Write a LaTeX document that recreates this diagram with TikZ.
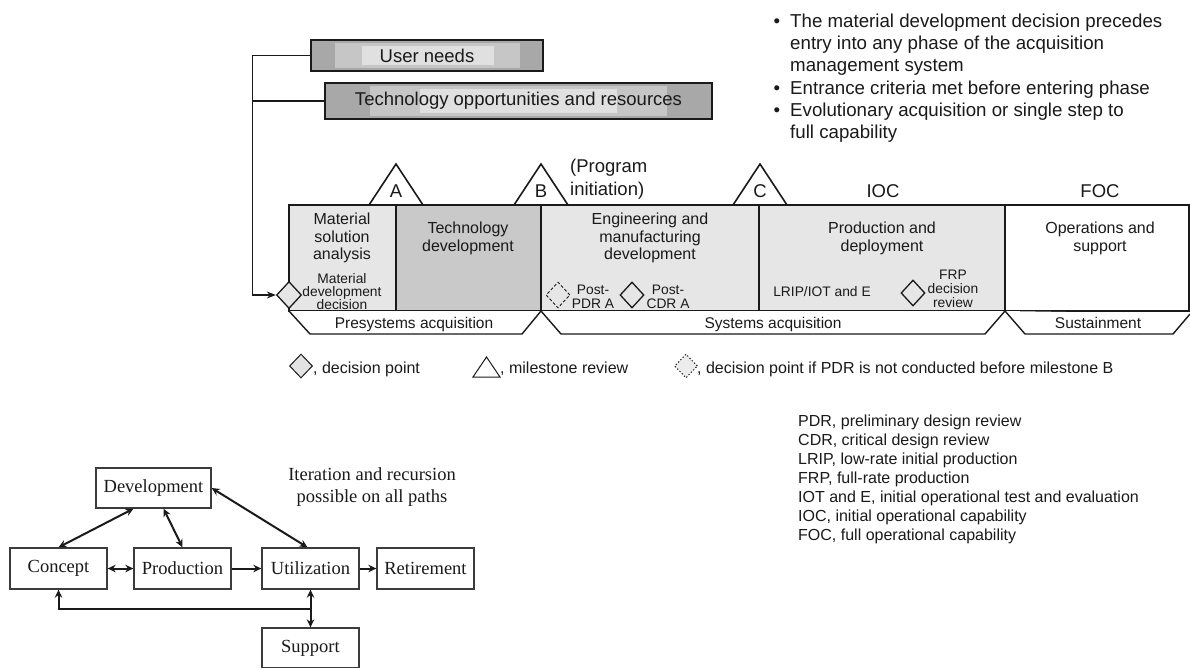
\documentclass[tikz,border=0pt]{standalone}
\usepackage{fontspec}
\setmainfont{Liberation Sans}
\newfontfamily\tnr{Liberation Serif}
\usetikzlibrary{shapes.geometric,arrows.meta,calc}
\newcommand\fsz[2]{\fontsize{#1}{#2}\selectfont}
\definecolor{ga}{HTML}{A8A8A8}
\definecolor{gb}{HTML}{C6C6C6}
\definecolor{gc}{HTML}{E0E0E0}
\definecolor{lphase}{HTML}{E6E6E6}
\definecolor{dphase}{HTML}{C9C9C9}
\definecolor{ink}{HTML}{1A1A1A}
\begin{document}
\begin{tikzpicture}[x=1pt,y=-1pt,line join=miter,
  every node/.style={text=ink,inner sep=0pt},
  topbox/.style={draw=ink,line width=1.5pt,inner sep=0pt,font=\fsz{18.5}{22}},
  phase/.style={draw=ink,line width=1.4pt,inner sep=0pt,minimum height=106pt},
  mstone/.style={draw=ink,line width=1.6pt,fill=white},
  dpt/.style={diamond,draw=ink,line width=1.3pt,minimum width=25pt,minimum height=27pt,inner sep=0pt},
  bar/.style={draw=ink,line width=1.4pt,fill=white},
  ptxt/.style={font=\fsz{16}{17.5},align=center,anchor=north},
  stxt/.style={font=\fsz{13.8}{13.3},align=center,anchor=north},
  ltxt/.style={font=\fsz{16}{19},anchor=base west},
  btxt/.style={font=\fsz{18.7}{22},anchor=base west},
  tbox/.style={draw=ink!85,line width=1.3pt,minimum width=97pt,minimum height=41pt,font=\tnr\fsz{18.5}{21}},
  tarr/.style={line width=2pt,draw=ink,{Stealth[length=8pt,width=7.5pt]}-{Stealth[length=8pt,width=7.5pt]}},
  tarr1/.style={line width=2pt,draw=ink,-{Stealth[length=8pt,width=7.5pt]}}
]
\useasboundingbox (0,0) rectangle (1190,667);
\fill[white] (0,0) rectangle (1190,667);

% ---------- top boxes ----------
\fill[ga] (311,40) rectangle (543,71);
\fill[gb] (335,43) rectangle (520,68);
\fill[gc] (362,46) rectangle (494,65);
\node[topbox,minimum width=232pt,minimum height=31pt] (un) at (427,55.5) {User needs};
\fill[ga] (325,83) rectangle (712,119);
\fill[gb] (370,86) rectangle (667,116);
\fill[gc] (420,89) rectangle (617,113);
\node[topbox,minimum width=387pt,minimum height=36pt] (tor) at (518.5,101) {Technology opportunities and resources};

% ---------- bullets ----------
\node[font=\fsz{18.7}{22},anchor=base] (bu1) at (777,27) {•};
\node[btxt] (b1a) at (790,27) {The material development decision precedes};
\node[btxt] (b1b) at (790,49) {entry into any phase of the acquisition};
\node[btxt] (b1c) at (790,71) {management system};
\node[font=\fsz{18.7}{22},anchor=base] (bu2) at (777,94) {•};
\node[btxt] (b2a) at (790,94) {Entrance criteria met before entering phase};
\node[font=\fsz{18.7}{22},anchor=base] (bu3) at (777,116) {•};
\node[btxt] (b3a) at (790,116) {Evolutionary acquisition or single step to};
\node[btxt] (b3b) at (790,138) {full capability};

% ---------- phases ----------
\node[phase,fill=lphase,minimum width=107pt] (msa) at (342.5,258) {};
\node[phase,fill=dphase,minimum width=145pt] (td) at (468.5,258) {};
\node[phase,fill=lphase,minimum width=218pt] (emd) at (650,258) {};
\node[phase,fill=lphase,minimum width=246pt] (pd) at (882,258) {};
\node[phase,fill=white,minimum width=184pt] (os) at (1097,258) {};

% milestones
\draw[mstone] (369,205) -- (396,164) -- (423,205) -- cycle;
\node[font=\fsz{18.5}{22},anchor=base] (mA) at (396,197) {A};
\draw[mstone] (514,205) -- (541,164) -- (568,205) -- cycle;
\node[font=\fsz{18.5}{22},anchor=base] (mB) at (541,197) {B};
\draw[mstone] (733,205) -- (760,164) -- (787,205) -- cycle;
\node[font=\fsz{18.5}{22},anchor=base] (mC) at (760,197) {C};
\node[font=\fsz{18.5}{22},anchor=base west] (pi1) at (570,172) {(Program};
\node[font=\fsz{18.5}{22},anchor=base west] (pi2) at (570,195) {initiation)};
\node[font=\fsz{18.5}{22},anchor=base] (ioc) at (883,197) {IOC};
\node[font=\fsz{18.5}{22},anchor=base] (foc) at (1100,197) {FOC};

% phase texts
\node[ptxt] (t1) at (342,213) {Material\\solution\\analysis};
\node[stxt] (t1s) at (342,273) {Material\\development\\decision};
\node[ptxt,font=\fsz{16}{18}] (t2) at (468,222) {Technology\\development};
\node[ptxt] (t3) at (650,213) {Engineering and\\manufacturing\\development};
\node[ptxt,font=\fsz{16}{18}] (t4) at (882,222) {Production and\\deployment};
\node[ptxt,font=\fsz{16}{18}] (t5) at (1100,222) {Operations and\\support};

% decision points
\node[dpt,fill=lphase] (mdd) at (289,295) {};
\node[dpt,densely dashed,line width=0.9pt,minimum width=24pt,minimum height=26pt] (ppdr) at (558,295) {};
\node[stxt] (ppdrt) at (593,285) {Post-\\PDR A};
\node[dpt,minimum width=24pt,minimum height=26pt] (pcdr) at (632,295) {};
\node[stxt] (pcdrt) at (668,285) {Post-\\CDR A};
\node[font=\fsz{13.8}{14},anchor=base] (lrip) at (822,296) {LRIP/IOT and E};
\node[dpt,minimum width=24pt,minimum height=26pt] (frp) at (913,293) {};
\node[stxt,font=\fsz{13.8}{14}] (frpt) at (953,270) {FRP\\decision\\review};

% connector from needs to decision
\draw[line width=1.3pt,draw=ink] (tor.west) -- ++(-72,0);
\draw[line width=1.3pt,draw=ink,-{Stealth[length=9pt,width=7pt]}] (un.west) -- ++(-58,0) |- (mdd.west);

% ---------- acquisition bar ----------
\draw[bar] (289,311) -- (310,334) -- (522,334) -- (541,311);
\draw[bar] (541,311) -- (561,334) -- (985,334) -- (1005,311);
\draw[bar] (1005,311) -- (1025,334) -- (1173,334) -- (1190,314);
\node[font=\fsz{15.5}{17},anchor=base] (pre) at (414,328) {Presystems acquisition};
\node[font=\fsz{15.5}{17},anchor=base] (sys) at (773,328) {Systems acquisition};
\node[font=\fsz{15.5}{17},anchor=base] (sus) at (1098,328) {Sustainment};

% ---------- legend ----------
\node[dpt,fill=gray!22,line width=1pt,minimum width=23pt,minimum height=24pt] (lg1) at (301,366) {};
\node[ltxt] (lg1t) at (313,373) {, decision point};
\draw[draw=ink,line width=1pt] (473,377) -- (486.5,357) -- (500,377) -- cycle;
\node[ltxt] (lg2t) at (500,373) {, milestone review};
\node[dpt,fill=gray!15,dotted,line width=1pt,minimum width=23pt,minimum height=24pt] (lg3) at (686,366) {};
\node[ltxt] (lg3t) at (697,373) {, decision point if PDR is not conducted before milestone B};

% ---------- abbreviations ----------
\node[ltxt] (ab1) at (798,426) {PDR, preliminary design review};
\node[ltxt] (ab2) at (798,445) {CDR, critical design review};
\node[ltxt] (ab3) at (798,464) {LRIP, low-rate initial production};
\node[ltxt] (ab4) at (798,483) {FRP, full-rate production};
\node[ltxt] (ab5) at (798,502) {IOT and E, initial operational test and evaluation};
\node[ltxt] (ab6) at (798,521) {IOC, initial operational capability};
\node[ltxt] (ab7) at (798,540) {FOC, full operational capability};

% ---------- life-cycle diagram ----------
\node[tbox,minimum width=115pt,minimum height=40pt] (dev) at (153.5,488) {Development};
\node[tbox] (con) at (58.5,568.5) {Concept};
\node[tbox] (pro) at (182.5,568.5) {Production};
\node[tbox] (uti) at (310.5,568.5) {Utilization};
\node[tbox] (ret) at (425.5,568.5) {Retirement};
\node[tbox,minimum height=40pt] (sup) at (310.5,648) {Support};
\node[font=\tnr\fsz{18.5}{21.5},align=center] (itr) at (372,487) {Iteration and recursion\\possible on all paths};

\draw[tarr] ($(dev.south)+(-20,0)$) -- (con.north);
\draw[tarr] ($(dev.south)+(10,0)$) -- (pro.north);
\draw[tarr] (dev.east) -- ($(uti.north)+(-3,0)$);
\draw[tarr] (con.east) -- (pro.west);
\draw[tarr1] (pro.east) -- (uti.west);
\draw[tarr1] (uti.east) -- (ret.west);
\draw[tarr] (uti.south) -- (sup.north);
\coordinate (jn) at ($(uti.south)!0.5!(sup.north)$);
\draw[tarr1] (jn) -| (con.south);
\end{tikzpicture}
\end{document}
